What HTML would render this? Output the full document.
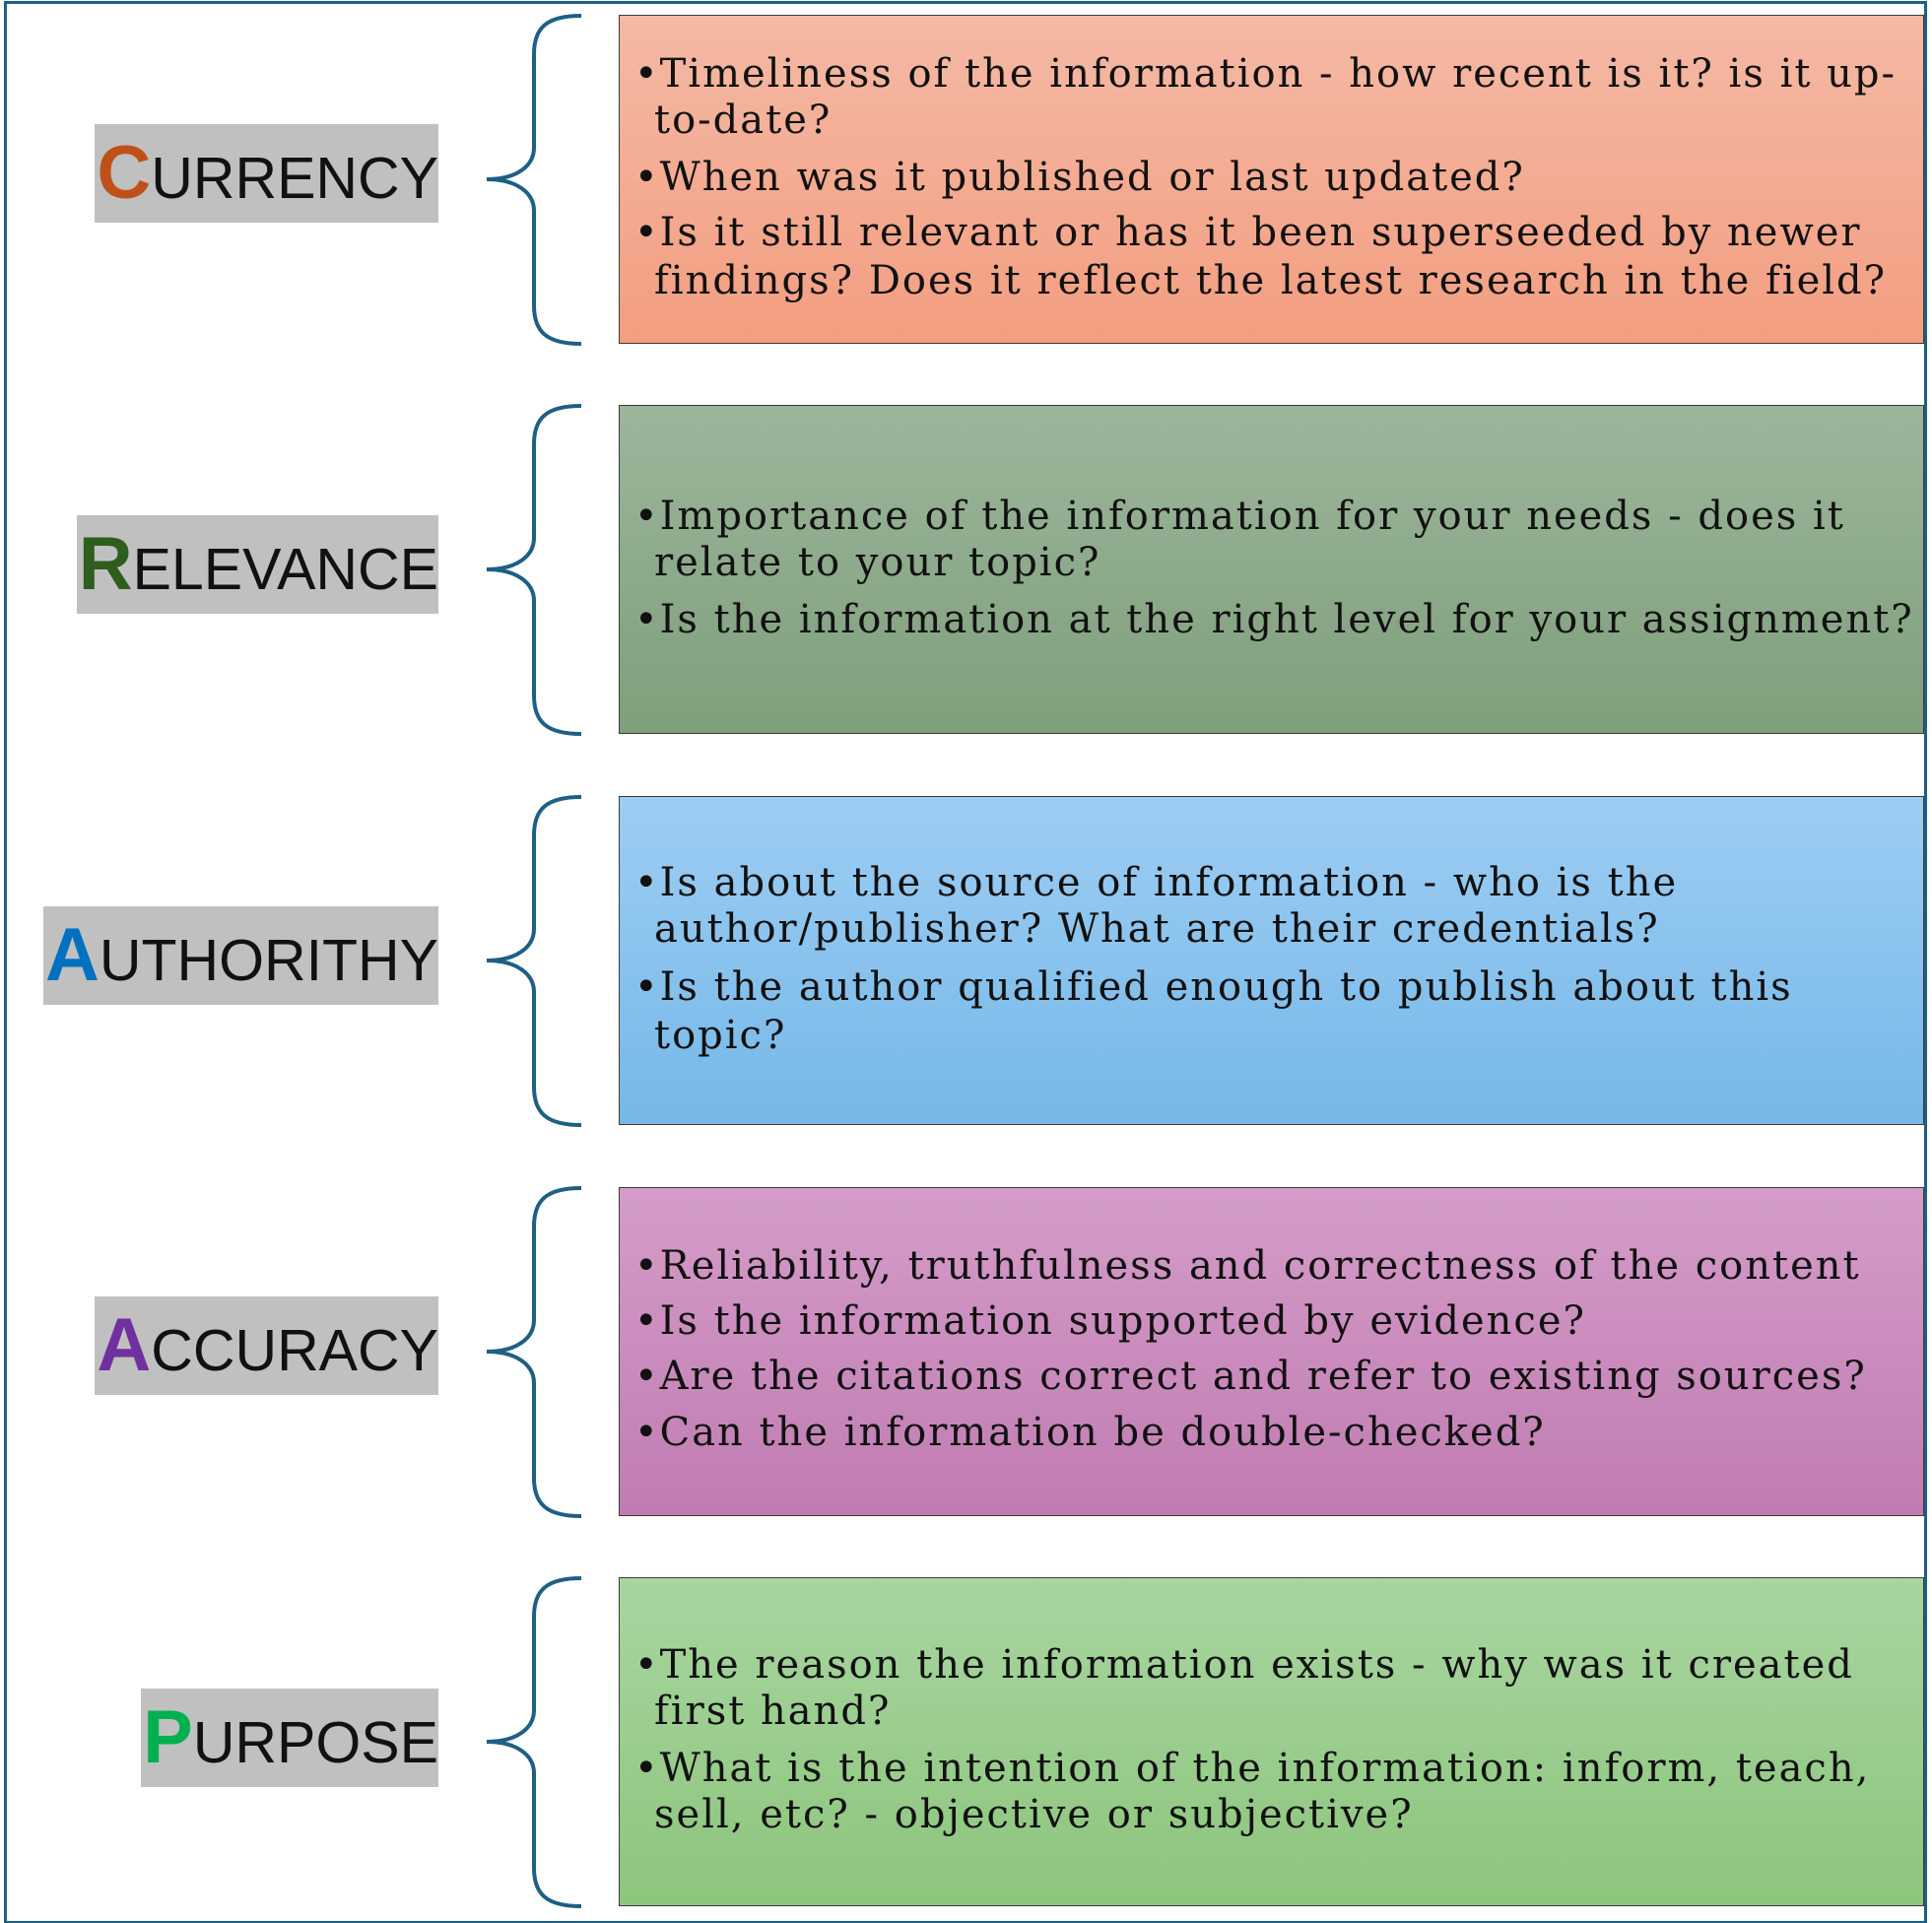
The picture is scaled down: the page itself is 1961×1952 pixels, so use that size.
<!DOCTYPE html>
<html><head><meta charset="utf-8"><style>
body{margin:0;background:#fff;}
#c{position:relative;width:1961px;height:1952px;overflow:hidden;background:#fff;}
.frame{position:absolute;left:4px;top:1px;width:1946px;height:1946px;border:3px solid #1f5f85;}
.box{position:absolute;left:628px;width:1323px;height:332px;border:1.5px solid #3a3a3a;}
.lab{position:absolute;right:1516px;height:100px;background:#c0c0c0;font-family:"Liberation Sans",sans-serif;font-size:59px;line-height:100px;color:#111;white-space:nowrap;padding-left:2px;}
.lab b{font-size:76px;}
.t{position:absolute;font-family:"DejaVu Serif","Liberation Serif",serif;font-size:40px;letter-spacing:2px;color:#111;white-space:nowrap;line-height:48px;transform:translateY(-24px);}
</style></head><body><div id="c">
<div class="frame"></div>
<div class="box" style="top:15px;background:linear-gradient(#f4b9a5,#f39e80)"></div>
<div class="box" style="top:411px;background:linear-gradient(#9db59b,#7e9f7c)"></div>
<div class="box" style="top:808px;background:linear-gradient(#9dcdf3,#75b8e8)"></div>
<div class="box" style="top:1205px;background:linear-gradient(#d49cc8,#c07cb2)"></div>
<div class="box" style="top:1601px;background:linear-gradient(#a8d5a0,#8cc57c)"></div>
<svg style="position:absolute;left:0;top:0" width="1961" height="1952" fill="none" stroke="#1f5f85" stroke-width="4">
<path id="br" d="M590 16 C555 16 542 28 542 55 L542 150 C542 168 525 182 494 182 C525 182 542 196 542 214 L542 310 C542 337 555 349 590 349"/>
<use href="#br" y="396"/><use href="#br" y="793"/><use href="#br" y="1190"/><use href="#br" y="1586"/>
</svg>
<div class="lab" style="top:126px"><b style="color:#c0501a">C</b>URRENCY</div>
<div class="lab" style="top:523px"><b style="color:#2e5e1e">R</b>ELEVANCE</div>
<div class="lab" style="top:920px"><b style="color:#0070c0">A</b>UTHORITHY</div>
<div class="lab" style="top:1316px"><b style="color:#7030a0">A</b>CCURACY</div>
<div class="lab" style="top:1714px"><b style="color:#00b050">P</b>URPOSE</div>

<div class="t" style="left:644px;top:75px">•Timeliness of the information - how recent is it? is it up-</div>
<div class="t" style="left:664px;top:122px">to-date?</div>
<div class="t" style="left:644px;top:180px">•When was it published or last updated?</div>
<div class="t" style="left:644px;top:236px">•Is it still relevant or has it been superseeded by newer</div>
<div class="t" style="left:664px;top:285px">findings? Does it reflect the latest research in the field?</div>

<div class="t" style="left:644px;top:524px">•Importance of the information for your needs - does it</div>
<div class="t" style="left:664px;top:571px">relate to your topic?</div>
<div class="t" style="left:644px;top:629px">•Is the information at the right level for your assignment?</div>

<div class="t" style="left:644px;top:896px">•Is about the source of information - who is the</div>
<div class="t" style="left:664px;top:943px">author/publisher? What are their credentials?</div>
<div class="t" style="left:644px;top:1002px">•Is the author qualified enough to publish about this</div>
<div class="t" style="left:664px;top:1051px">topic?</div>

<div class="t" style="left:644px;top:1285px">•Reliability, truthfulness and correctness of the content</div>
<div class="t" style="left:644px;top:1341px">•Is the information supported by evidence?</div>
<div class="t" style="left:644px;top:1397px">•Are the citations correct and refer to existing sources?</div>
<div class="t" style="left:644px;top:1454px">•Can the information be double-checked?</div>

<div class="t" style="left:644px;top:1690px">•The reason the information exists - why was it created</div>
<div class="t" style="left:664px;top:1737px">first hand?</div>
<div class="t" style="left:644px;top:1795px">•What is the intention of the information: inform, teach,</div>
<div class="t" style="left:664px;top:1842px">sell, etc? - objective or subjective?</div>
</div></body></html>
